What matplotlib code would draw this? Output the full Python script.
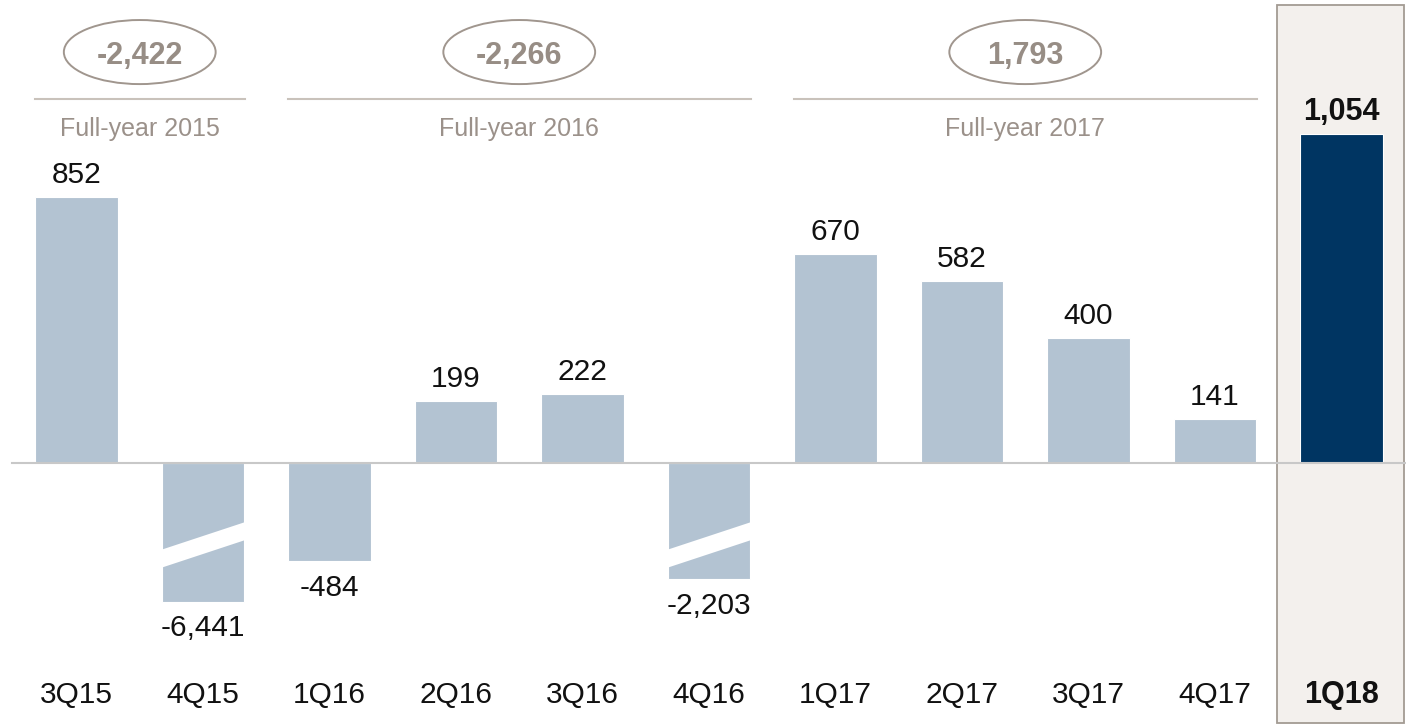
import numpy as np
import matplotlib
matplotlib.use("Agg")
import matplotlib.pyplot as plt
import matplotlib.transforms as mtransforms
from matplotlib.patches import Ellipse, Polygon, Rectangle

quarters = ["3Q15", "4Q15", "1Q16", "2Q16", "3Q16", "4Q16",
            "1Q17", "2Q17", "3Q17", "4Q17", "1Q18"]
net_income = [852, -6441, -484, 199, 222, -2203, 670, 582, 400, 141, 1054]
broken = ["4Q15", "4Q16"]
current = "1Q18"

year_names = ["Full-year 2015", "Full-year 2016", "Full-year 2017"]
year_totals = [-2422, -2266, 1793]
year_first = ["3Q15", "1Q16", "1Q17"]
year_last = ["4Q15", "4Q16", "4Q17"]

LIGHT = "#b3c3d2"
DARK = "#003562"
TAUPE = "#9b918a"
RULE = "#c9c2bb"

# losses are squashed: linear down to the knee, then strongly compressed
KNEE = 484
NEG_LIN = 0.648
FAR_K = 57.2
FAR_P = 0.46


def squash(y):
    y = np.asarray(y, dtype=float)
    a = np.abs(np.minimum(y, 0))
    near = a * NEG_LIN
    far = KNEE * NEG_LIN + FAR_K * ((np.maximum(a, KNEE) / KNEE) ** FAR_P - 1)
    return np.where(y >= 0, y, -np.where(a <= KNEE, near, far))


def unsquash(t):
    t = np.asarray(t, dtype=float)
    s = np.abs(np.minimum(t, 0))
    knee_t = KNEE * NEG_LIN
    near = s / NEG_LIN
    far = KNEE * ((np.maximum(s, knee_t) - knee_t) / FAR_K + 1) ** (1 / FAR_P)
    return np.where(t >= 0, t, -np.where(s <= knee_t, near, far))


plt.rcParams["font.family"] = ["Liberation Sans", "DejaVu Sans"]

fig = plt.figure(figsize=(14.06, 7.24), dpi=100)
ax = fig.add_axes([0, 0, 1, 1])
ax.axis("off")
ax.set_yscale("function", functions=(squash, unsquash))

x = np.arange(len(quarters))
pos = dict(zip(quarters, x))
bw = 0.65
cur = pos[current]

# highlighted panel behind the latest quarter
yax = mtransforms.blended_transform_factory(ax.transData, ax.transAxes)
ax.add_patch(Rectangle((cur - 0.51, 0.0015), 1.004, 0.9915, transform=yax,
                       facecolor="#f3f0ed", edgecolor="#a39b93", lw=1.3, zorder=0))

colors = [DARK if q == current else LIGHT for q in quarters]
ax.bar(x, net_income, width=bw, color=colors, edgecolor="white", lw=0.8, zorder=2)

# white slanted gap on the truncated bars
for q in broken:
    i = pos[q]
    x0, x1 = i - bw / 2 - 0.01, i + bw / 2 + 0.01
    ys = unsquash(-np.array([278.4, 188.8, 246.4, 336.0]))
    ax.add_patch(Polygon([(x0, ys[0]), (x1, ys[1]), (x1, ys[2]), (x0, ys[3])],
                         closed=True, facecolor="white", edgecolor="none", zorder=3))

ax.plot([-0.51, 10.51], [0, 0], color="#c8c8c8", lw=1.5, zorder=4)

for i, (q, v) in enumerate(zip(quarters, net_income)):
    bold = q == current
    if v >= 0:
        ax.annotate(f"{v:,}", (i, v), xytext=(0, 10), textcoords="offset points",
                    ha="center", va="baseline", fontsize=22 if bold else 21.5,
                    fontweight="bold" if bold else "normal", color="#111111", zorder=5)
    else:
        ax.annotate(f"{v:,}", (i, v), xytext=(0, -9), textcoords="offset points",
                    ha="center", va="top", fontsize=21.5, color="#111111", zorder=5)
    ax.text(i, 0.029, q, transform=yax, ha="center", va="baseline",
            fontsize=22 if bold else 21.5, fontweight="bold" if bold else "normal",
            color="#111111", zorder=5)

# full-year totals above the quarters
for name, total, a, b in zip(year_names, year_totals, year_first, year_last):
    left, right = pos[a] - 0.33, pos[b] + 0.33
    mid = (left + right) / 2
    ax.plot([left, right], [1165, 1165], color=RULE, lw=1.5, zorder=2)
    ax.text(mid, 1046, name, ha="center", va="baseline", fontsize=18, color=TAUPE)
    ax.add_patch(Ellipse((mid, 1315), 1.2, 205, facecolor="white",
                         edgecolor="#a0968e", lw=1.4, zorder=2))
    ax.text(mid, 1277, f"{total:,}", ha="center", va="baseline", fontsize=22,
            fontweight="bold", color="#978d85", zorder=3)

ax.set_xlim(-0.6047, 10.510)
ax.set_ylim(float(unsquash(-835.2)), 1481.6)

fig.savefig("out.png", dpi=100)
